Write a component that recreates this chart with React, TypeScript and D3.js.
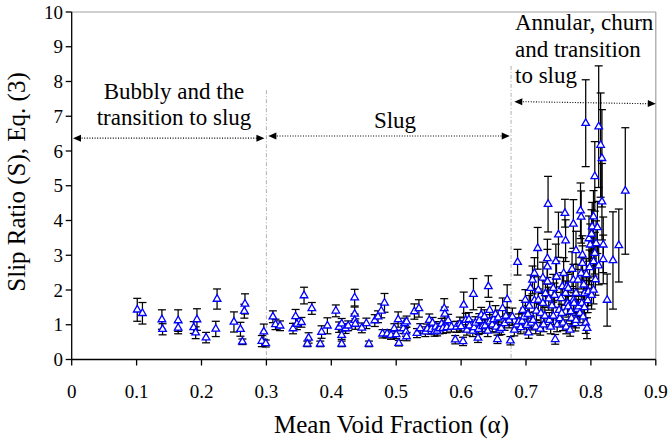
import React from "react";
import * as d3 from "d3";

// [alpha, S, half error]
const bubblyPoints: [number, number, number][] = [
  [0.101, 1.43, 0.33], [0.109, 1.33, 0.31], [0.139, 1.15, 0.28], [0.140, 0.87, 0.16],
  [0.164, 1.12, 0.31], [0.164, 0.91, 0.17], [0.188, 0.92, 0.17], [0.193, 1.15, 0.31],
  [0.191, 0.77, 0.17], [0.207, 0.63, 0.15], [0.224, 1.74, 0.29], [0.222, 0.88, 0.22],
  [0.250, 1.08, 0.29], [0.260, 0.87, 0.2], [0.263, 0.51, 0.08], [0.266, 1.39, 0.2],
  [0.267, 1.60, 0.29], [0.293, 0.53, 0.16], [0.296, 0.80, 0.22], [0.299, 0.46, 0.1],
];

const slugPoints: [number, number, number][] = [
  [0.310, 1.23, 0.17], [0.314, 1.01, 0.15], [0.321, 0.97, 0.14], [0.341, 0.89, 0.15],
  [0.345, 1.24, 0.2], [0.347, 1.02, 0.16], [0.354, 1.07, 0.14], [0.358, 1.84, 0.24],
  [0.365, 0.62, 0.15], [0.363, 0.45, 0.08], [0.370, 1.47, 0.17], [0.383, 0.45, 0.08],
  [0.385, 0.79, 0.18], [0.394, 0.97, 0.23], [0.407, 1.40, 0.17], [0.412, 0.93, 0.15],
  [0.416, 1.03, 0.15], [0.416, 0.70, 0.12], [0.416, 0.45, 0.08], [0.422, 0.89, 0.14],
  [0.426, 0.97, 0.14], [0.436, 1.78, 0.24], [0.436, 1.31, 0.2], [0.436, 1.13, 0.18],
  [0.437, 1.02, 0.15], [0.447, 0.91, 0.14], [0.454, 1.04, 0.15], [0.458, 0.45, 0.08],
  [0.467, 1.12, 0.17], [0.472, 1.23, 0.17], [0.477, 1.40, 0.2], [0.482, 1.63, 0.27],
  [0.479, 0.74, 0.12], [0.486, 0.74, 0.12], [0.492, 0.70, 0.12], [0.497, 0.89, 0.14],
  [0.500, 0.72, 0.12], [0.503, 1.15, 0.22], [0.504, 0.47, 0.08], [0.511, 0.89, 0.14],
  [0.513, 1.04, 0.15], [0.516, 1.09, 0.16], [0.515, 0.80, 0.13], [0.516, 0.66, 0.12],
  [0.528, 1.38, 0.22], [0.535, 1.47, 0.25], [0.532, 0.76, 0.13], [0.537, 0.89, 0.14],
  [0.545, 0.80, 0.14], [0.548, 0.88, 0.14], [0.551, 1.13, 0.18], [0.554, 0.87, 0.14],
  [0.556, 1.05, 0.16], [0.559, 0.80, 0.13], [0.561, 0.94, 0.15], [0.563, 0.82, 0.14],
  [0.567, 0.89, 0.15], [0.570, 1.02, 0.16], [0.572, 0.90, 0.15], [0.574, 1.47, 0.28],
  [0.575, 1.31, 0.2], [0.578, 0.92, 0.15], [0.580, 1.12, 0.18], [0.585, 0.94, 0.15],
  [0.591, 0.57, 0.12], [0.593, 0.94, 0.16], [0.598, 1.02, 0.2], [0.600, 0.95, 0.16],
  [0.603, 0.52, 0.12], [0.604, 1.57, 0.37], [0.607, 1.13, 0.2], [0.609, 0.85, 0.15],
  [0.612, 1.15, 0.2], [0.613, 0.97, 0.17], [0.618, 0.82, 0.16], [0.619, 1.88, 0.45],
  [0.620, 0.92, 0.16], [0.622, 1.05, 0.18], [0.626, 0.62, 0.13], [0.627, 0.87, 0.15],
  [0.628, 1.12, 0.2], [0.631, 1.28, 0.22], [0.633, 0.95, 0.2], [0.636, 1.23, 0.2],
  [0.637, 0.97, 0.17], [0.641, 0.82, 0.16], [0.642, 2.10, 0.31], [0.644, 1.42, 0.25],
  [0.644, 1.09, 0.2], [0.648, 1.0, 0.2], [0.650, 1.15, 0.2], [0.653, 1.3, 0.25],
  [0.654, 0.94, 0.17], [0.656, 0.58, 0.12], [0.657, 1.2, 0.22], [0.659, 0.85, 0.15],
  [0.662, 0.9, 0.18], [0.664, 1.47, 0.3], [0.667, 1.04, 0.2], [0.669, 1.25, 0.25],
  [0.671, 1.73, 0.42], [0.674, 1.13, 0.22], [0.676, 0.54, 0.12],
];

const annularPoints: [number, number, number][] = [
  [0.679, 1.23, 0.25], [0.682, 0.85, 0.17], [0.686, 1.0, 0.2], [0.687, 2.80, 0.37],
  [0.689, 1.09, 0.22], [0.692, 0.92, 0.18], [0.694, 1.1, 0.22], [0.695, 1.42, 0.28],
  [0.697, 1.23, 0.25], [0.699, 1.71, 0.3], [0.701, 0.99, 0.2], [0.703, 1.3, 0.25],
  [0.704, 0.77, 0.16], [0.705, 1.54, 0.3], [0.707, 2.05, 0.38], [0.708, 1.05, 0.2],
  [0.710, 2.29, 0.4], [0.711, 1.13, 0.22], [0.713, 2.48, 0.45], [0.713, 1.7, 0.33],
  [0.715, 0.94, 0.2], [0.716, 1.4, 0.27], [0.718, 3.20, 0.6], [0.719, 2.00, 0.38],
  [0.719, 1.71, 0.32], [0.722, 0.88, 0.18], [0.723, 1.33, 0.26], [0.726, 1.62, 0.3],
  [0.726, 2.35, 0.45], [0.727, 1.0, 0.2], [0.729, 1.25, 0.25], [0.730, 1.90, 0.36],
  [0.733, 2.67, 0.5], [0.733, 2.91, 0.55], [0.733, 2.24, 0.42], [0.734, 4.47, 0.8],
  [0.735, 1.75, 0.33], [0.736, 1.13, 0.22], [0.738, 0.94, 0.2], [0.740, 1.55, 0.3],
  [0.742, 1.25, 0.25], [0.742, 2.05, 0.4], [0.744, 1.85, 0.35], [0.745, 0.58, 0.14],
  [0.746, 2.82, 0.5], [0.747, 2.38, 0.45], [0.748, 1.0, 0.2], [0.750, 3.59, 0.65],
  [0.751, 1.42, 0.28], [0.752, 1.18, 0.24], [0.754, 1.76, 0.33], [0.755, 1.33, 0.26],
  [0.756, 2.10, 0.4], [0.757, 1.05, 0.22], [0.758, 2.48, 0.45], [0.760, 4.21, 0.4],
  [0.761, 3.42, 0.6], [0.761, 1.91, 0.35], [0.762, 0.94, 0.2], [0.763, 2.10, 0.4],
  [0.764, 1.62, 0.32], [0.765, 2.05, 0.4], [0.765, 1.52, 0.3], [0.768, 0.85, 0.18],
  [0.769, 1.38, 0.27], [0.770, 1.19, 0.24], [0.771, 2.6, 0.5], [0.773, 3.90, 0.7],
  [0.773, 2.29, 0.45], [0.773, 1.71, 0.33], [0.774, 1.62, 0.3], [0.776, 1.04, 0.22],
  [0.777, 3.14, 0.55], [0.777, 1.91, 0.35], [0.777, 1.13, 0.22], [0.779, 1.45, 0.28],
  [0.780, 2.29, 0.45], [0.781, 1.52, 0.3], [0.783, 1.33, 0.27], [0.784, 4.28, 0.8],
  [0.785, 4.10, 0.75], [0.785, 2.48, 0.45], [0.786, 1.62, 0.32], [0.787, 3.01, 0.55],
  [0.787, 2.77, 0.5], [0.788, 1.23, 0.25], [0.789, 2.15, 0.42], [0.790, 1.5, 0.3],
  [0.790, 1.9, 0.38], [0.792, 6.80, 1.25], [0.792, 1.05, 0.3], [0.793, 2.45, 0.45],
  [0.794, 0.90, 0.3], [0.795, 1.7, 0.35], [0.796, 1.95, 0.4], [0.797, 3.48, 0.65],
  [0.798, 2.65, 0.5], [0.799, 3.30, 0.6], [0.801, 3.61, 0.7], [0.801, 1.85, 0.4],
  [0.802, 3.82, 0.7], [0.804, 4.11, 0.75], [0.804, 2.82, 0.55], [0.804, 2.00, 0.4],
  [0.806, 5.27, 1.0], [0.806, 3.06, 0.6], [0.807, 2.3, 0.45], [0.808, 3.34, 0.65],
  [0.810, 3.8, 0.75], [0.812, 6.70, 1.75], [0.812, 2.7, 0.55], [0.815, 6.17, 1.5],
  [0.817, 5.79, 1.4], [0.817, 4.54, 1.1], [0.819, 3.30, 0.8], [0.819, 2.88, 0.7],
  [0.825, 1.71, 0.75], [0.834, 2.85, 1.4], [0.843, 3.28, 1.05], [0.853, 4.85, 1.82],
];

const xTicks = [0, 0.1, 0.2, 0.3, 0.4, 0.5, 0.6, 0.7, 0.8, 0.9];
const yTicks = [0, 1, 2, 3, 4, 5, 6, 7, 8, 9, 10];
const regimeBoundaries = [0.3, 0.677];

const xTitle = "Mean Void Fraction (\u03b1)";
const yTitle = "Slip Ratio (S), Eq. (3)";
const bubblyLabel = ["Bubbly and the", "transition to slug"];
const slugLabel = "Slug";
const annularLabel = ["Annular, churn", "and transition", "to slug"];

const W = 669;
const H = 442;
const FONT = '"Liberation Serif", "DejaVu Serif", serif';

export default function App() {
  const x = d3.scaleLinear().domain([0, 0.9]).range([71.7, 655.8]);
  const y = d3.scaleLinear().domain([0, 10]).range([359.5, 12]);
  const all = [...bubblyPoints, ...slugPoints, ...annularPoints];
  const tri = d3.symbol().type(d3.symbolTriangle).size(25)() as string;
  const ts = { fontFamily: FONT } as React.CSSProperties;

  const arrow = (x0: number, x1: number, y0: number, y1: number, key: string) => {
    const X0 = x(x0), X1 = x(x1), Y0 = y(y0), Y1 = y(y1);
    const ang = Math.atan2(Y1 - Y0, X1 - X0);
    const L = 8, Wd = 3.5;
    const head = (px: number, py: number, a: number) => {
      const bx = px - L * Math.cos(a), by = py - L * Math.sin(a);
      const nx = -Math.sin(a) * Wd, ny = Math.cos(a) * Wd;
      return `M${px},${py}L${bx + nx},${by + ny}L${bx - nx},${by - ny}Z`;
    };
    return (
      <g key={key}>
        <line x1={X0 + 6} y1={Y0} x2={X1 - 6} y2={Y1} stroke="#000" strokeWidth={1.1} strokeDasharray="1,1.6" />
        <path d={head(X1, Y1, ang)} fill="#000" />
        <path d={head(X0, Y0, ang + Math.PI)} fill="#000" />
      </g>
    );
  };

  return (
    <svg width={W} height={H} style={{ position: "absolute", left: 0, top: 0, background: "#fff", fontFamily: FONT }}>
      <rect x={0} y={0} width={W} height={H} fill="#fff" />
      {/* plot frame top/right */}
      <line x1={x(0)} y1={y(10)} x2={x(0.9)} y2={y(10)} stroke="#a0a0a0" strokeWidth={1} />
      <line x1={x(0.9)} y1={y(10)} x2={x(0.9)} y2={y(0)} stroke="#a0a0a0" strokeWidth={1.2} />

      {/* regime boundaries */}
      <line x1={x(regimeBoundaries[0])} y1={y(7.75)} x2={x(regimeBoundaries[0])} y2={y(0)} stroke="#b0b0b0" strokeWidth={1} strokeDasharray="4,2,1,2" />
      <line x1={x(regimeBoundaries[1])} y1={y(8.45)} x2={x(regimeBoundaries[1])} y2={y(0)} stroke="#b0b0b0" strokeWidth={1} strokeDasharray="4,2,1,2" />

      {/* arrows */}
      {arrow(0.002, 0.297, 6.37, 6.37, "a1")}
      {arrow(0.303, 0.675, 6.43, 6.43, "a2")}
      {arrow(0.682, 0.9, 7.42, 7.36, "a3")}

      {/* annotations */}
      <text style={ts} x={174} y={98.5} fontSize={23} textAnchor="middle">{bubblyLabel[0]}</text>
      <text style={ts} x={174} y={124.5} fontSize={23} textAnchor="middle">{bubblyLabel[1]}</text>
      <text style={ts} x={395} y={128} fontSize={23} textAnchor="middle">{slugLabel}</text>
      {annularLabel.map((t, i) => (
        <text style={ts} key={t} x={515} y={30 + i * 26.5} fontSize={23}>{t}</text>
      ))}

      {/* error bars */}
      {all.map(([a, s, e], i) => {
        const cx = x(a);
        const yt = y(s + e), yb = y(Math.max(0, s - e));
        return (
          <g key={"e" + i} stroke="#000" strokeWidth={1.25}>
            <line x1={cx} y1={yt} x2={cx} y2={yb} />
            <line x1={cx - 4} y1={yt} x2={cx + 4} y2={yt} />
            <line x1={cx - 4} y1={yb} x2={cx + 4} y2={yb} />
          </g>
        );
      })}
      {/* markers */}
      {all.map(([a, s], i) => (
        <path key={"m" + i} d={tri} transform={`translate(${x(a)},${y(s)})`} fill="#fff" stroke="#0000ff" strokeWidth={1.3} />
      ))}

      {/* axes */}
      <line x1={x(0)} y1={y(0)} x2={x(0.9)} y2={y(0)} stroke="#000" strokeWidth={1.3} />
      <line x1={x(0)} y1={y(0)} x2={x(0)} y2={y(10)} stroke="#000" strokeWidth={1.3} />
      {xTicks.map((t) => (
        <g key={"xt" + t}>
          <line x1={x(t)} y1={y(0)} x2={x(t)} y2={y(0) + 6} stroke="#000" strokeWidth={1.3} />
          <text style={ts} x={x(t)} y={397.5} fontSize={19} textAnchor="middle">{String(+t.toFixed(1))}</text>
        </g>
      ))}
      {yTicks.map((t) => (
        <g key={"yt" + t}>
          <line x1={x(0) - 6} y1={y(t)} x2={x(0)} y2={y(t)} stroke="#000" strokeWidth={1.3} />
          <text style={ts} x={63} y={y(t) + 6.5} fontSize={19} textAnchor="end">{t}</text>
        </g>
      ))}
      <text style={ts} x={391.5} y={433} fontSize={25} textAnchor="middle">{xTitle}</text>
      <text style={ts} transform={`translate(25,182) rotate(-90)`} fontSize={25} textAnchor="middle">{yTitle}</text>
    </svg>
  );
}
